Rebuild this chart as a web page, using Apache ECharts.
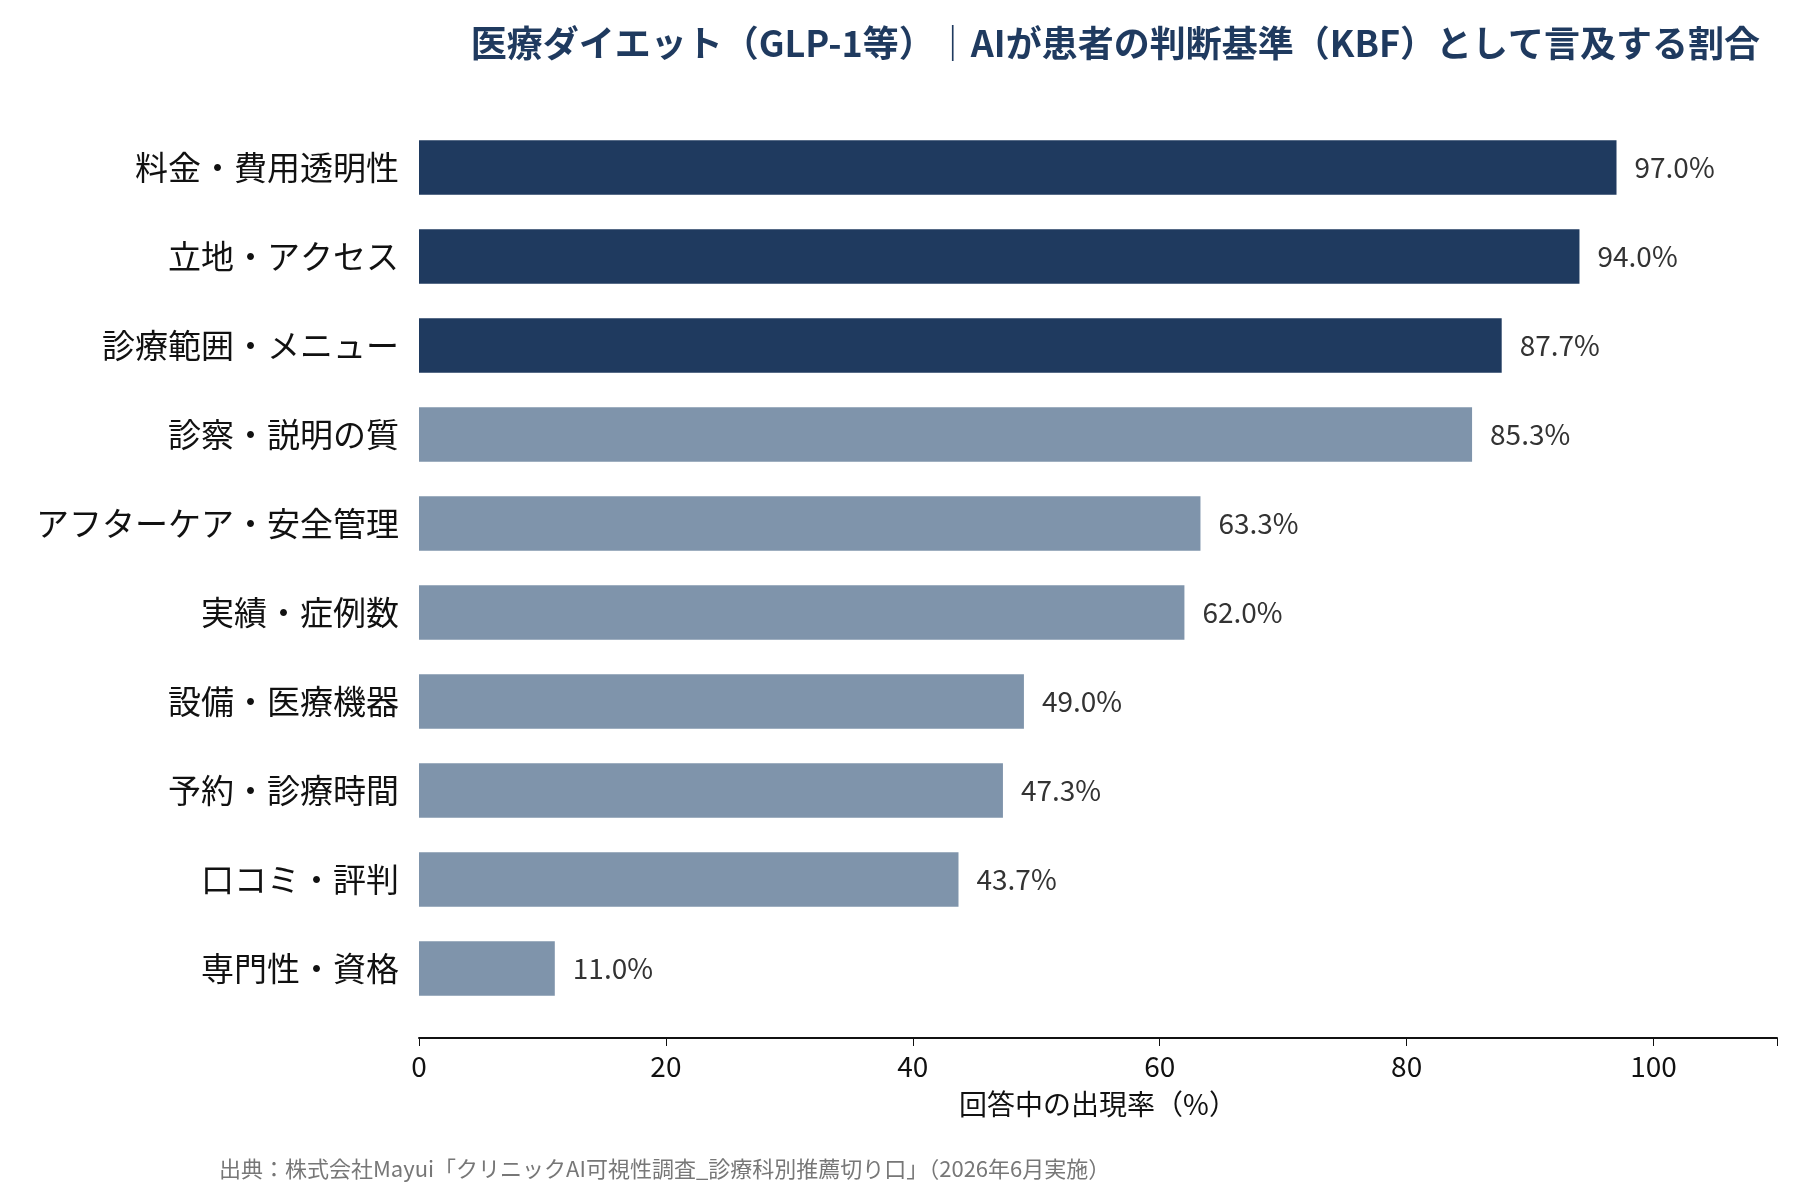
<!DOCTYPE html>
<html><head><meta charset="utf-8">
<script src="https://cdn.jsdelivr.net/npm/echarts@6/dist/echarts.min.js"></script>
<style>html,body{margin:0;background:#fff}#c{width:1800px;height:1200px}</style>
</head><body><div id="c"></div>
<script>
var categories = ['料金・費用透明性','立地・アクセス','診療範囲・メニュー','診察・説明の質','アフターケア・安全管理','実績・症例数','設備・医療機器','予約・診療時間','口コミ・評判','専門性・資格'];
var values = [97.0,94.0,87.7,85.3,63.3,62.0,49.0,47.3,43.7,11.0];
var topCount = 3;
var font = '"Noto Sans CJK JP","Noto Sans",sans-serif';

var chart = echarts.init(document.getElementById('c'));
chart.setOption({
  animation:false,
  title:{text:'医療ダイエット（GLP-1等）｜AIが患者の判断基準（KBF）として言及する割合',right:35,top:20,
    textStyle:{fontFamily:font,fontSize:36,fontWeight:'bold',color:'#1f3a5f'}},
  graphic:[{type:'text',left:219,top:1158,style:{text:'出典：株式会社Mayui「クリニックAI可視性調査_診療科別推薦切り口」（2026年6月実施）',
    font:'22px '+font,fill:'#777'}}],
  grid:{left:419,right:23,top:123,bottom:187},
  xAxis:{type:'value',min:0,max:110,interval:20,offset:25,
    name:'回答中の出現率（%）',nameLocation:'middle',nameGap:52,
    nameTextStyle:{fontFamily:font,fontSize:28,color:'#111'},
    axisLine:{show:true,lineStyle:{color:'#111',width:2}},
    axisTick:{show:true,length:8,lineStyle:{color:'#111'}},
    axisLabel:{fontFamily:font,fontSize:28,color:'#111',margin:14,
      formatter:function(v){return v>100?'':v;}},
    splitLine:{show:false}},
  yAxis:{type:'category',data:categories,inverse:true,
    axisLine:{show:false},axisTick:{show:false},
    axisLabel:{fontFamily:font,fontSize:33,color:'#111',margin:20}},
  series:[{type:'bar',barWidth:'61%',
    data:values.map(function(v,i){return {value:v,itemStyle:{color:i<topCount?'#1f3a5f':'#7f94ab'}};}),
    label:{show:true,position:'right',distance:18,fontFamily:font,fontSize:28,color:'#333',
      formatter:function(p){return p.value.toFixed(1)+'%';}}}]
});
</script></body></html>
